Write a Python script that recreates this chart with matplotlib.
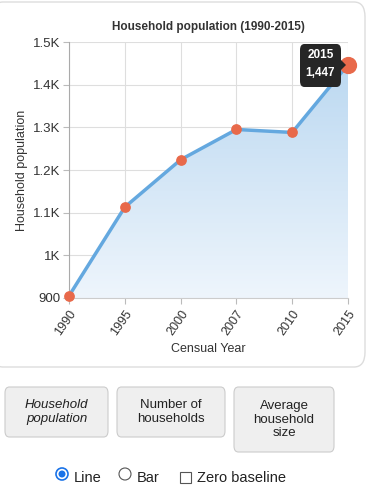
import numpy as np
import matplotlib.pyplot as plt
from matplotlib.patches import FancyBboxPatch, Polygon, Ellipse, Rectangle
from matplotlib.colors import LinearSegmentedColormap

# data
years = ['1990', '1995', '2000', '2007', '2010', '2015']
household_pop = [905, 1113, 1224, 1295, 1288, 1447]
yticks = [900, 1000, 1100, 1200, 1300, 1400, 1500]
ytick_labels = ['900', '1K', '1.1K', '1.2K', '1.3K', '1.4K', '1.5K']
buttons = ['Household\npopulation', 'Number of\nhouseholds', 'Average\nhousehold\nsize']

W, H = 367, 498
plt.rcParams['font.family'] = ['Liberation Sans', 'DejaVu Sans']
fig = plt.figure(figsize=(W / 100, H / 100), dpi=100)

def fx(px):
    return px / W

def fy(py):
    return 1 - py / H

def circle(cx, cy, r, **kw):
    # circle in pixel units, placed in figure coords
    e = Ellipse((fx(cx), fy(cy)), 2 * r / W, 2 * r / H,
                transform=fig.transFigure, **kw)
    fig.patches.append(e)

# card background
card = FancyBboxPatch((fx(-8), fy(367)), fx(373), fy(2) - fy(367),
                      boxstyle='round,pad=0,rounding_size=0.03',
                      transform=fig.transFigure, facecolor='white',
                      edgecolor='#dddddd', lw=1, zorder=-10)
fig.patches.append(card)

ax = fig.add_axes([fx(69), fy(298), fx(348) - fx(69), fy(42) - fy(298)])
ax.patch.set_alpha(0)
x = np.arange(len(years))
ax.set_xlim(0, len(years) - 1)
ax.set_ylim(900, 1500)

# gradient fill under line
cmap = LinearSegmentedColormap.from_list('g', ['#eef5fc', '#b7d6f0'])
grad = np.linspace(0, 1, 256).reshape(-1, 1)
im = ax.imshow(grad, aspect='auto', cmap=cmap, origin='lower',
               extent=[0, len(years) - 1, 900, 1500], zorder=1)
verts = [(0, 900)] + list(zip(x, household_pop)) + [(len(years) - 1, 900)]
poly = Polygon(verts, closed=True, facecolor='none', edgecolor='none')
ax.add_patch(poly)
im.set_clip_path(poly)

ax.plot(x, household_pop, color='#64a8df', lw=2.5, zorder=3)
ax.scatter(x[:-1], household_pop[:-1], s=45, color='#e8694a', zorder=4, clip_on=False)
ax.scatter(x[-1:], household_pop[-1:], s=130, color='#e8694a', zorder=5, clip_on=False)

ax.set_yticks(yticks)
ax.set_yticklabels(ytick_labels, fontsize=9.5, color='#333333')
ax.set_xticks(x)
ax.set_xticklabels(years, rotation=55, ha='right', rotation_mode='anchor',
                   fontsize=9, color='#333333')
ax.tick_params(axis='y', length=4, color='#bbbbbb', pad=2)
ax.tick_params(axis='x', length=4, color='#bbbbbb', pad=3)
ax.grid(True, color='#dedede', lw=0.8)
ax.set_axisbelow(True)
for s in ['top', 'right']:
    ax.spines[s].set_visible(False)
ax.spines['left'].set_color('#aaaaaa')
ax.spines['bottom'].set_color('#cccccc')
ax.set_xlabel('Censual Year', fontsize=9, color='#333333', labelpad=4)
ax.set_ylabel('Household population', fontsize=9, color='#333333', labelpad=4)
ax.set_title('Household population (1990-2015)', fontsize=8.5, fontweight='bold',
             color='#333333', pad=9)

# tooltip
tip = FancyBboxPatch((fx(300), fy(87)), fx(41), fy(44) - fy(87),
                     boxstyle='round,pad=0,rounding_size=0.012',
                     transform=fig.transFigure, facecolor='#262626',
                     edgecolor='none', zorder=10)
fig.patches.append(tip)
fig.patches.append(Polygon([(fx(341), fy(60)), (fx(346), fy(65)), (fx(341), fy(70))],
                           closed=True, transform=fig.transFigure,
                           facecolor='#262626', edgecolor='none', zorder=10))
fig.text(fx(320.5), fy(55), years[-1], color='white', fontsize=8.5,
         fontweight='bold', ha='center', va='center', zorder=11)
fig.text(fx(320.5), fy(73), f'{household_pop[-1]:,}', color='white', fontsize=8.5,
         fontweight='bold', ha='center', va='center', zorder=11)

# buttons
btn_boxes = [(5, 387, 103, 50), (117, 387, 108, 50), (234, 387, 100, 65)]
for i, (label, (bx, by, bw, bh)) in enumerate(zip(buttons, btn_boxes)):
    b = FancyBboxPatch((fx(bx), fy(by + bh)), fx(bw), fy(by) - fy(by + bh),
                       boxstyle='round,pad=0,rounding_size=0.012',
                       transform=fig.transFigure, facecolor='#efefef',
                       edgecolor='#cccccc', lw=0.8)
    fig.patches.append(b)
    fig.text(fx(bx + bw / 2), fy(by + bh / 2), label, ha='center', va='center',
             fontsize=9.5, color='#222222', linespacing=1.15,
             style='italic' if i == 0 else 'normal')

# radio / checkbox controls
circle(62, 474, 6, facecolor='white', edgecolor='#1a73e8', lw=1.2)
circle(62, 474, 3.5, facecolor='#1a73e8', edgecolor='none')
fig.text(fx(74), fy(478), 'Line', fontsize=10.5, va='center', color='#222222')
circle(125, 474, 6, facecolor='white', edgecolor='#555555', lw=0.8)
fig.text(fx(137), fy(478), 'Bar', fontsize=10.5, va='center', color='#222222')
fig.patches.append(Rectangle((fx(180), fy(483)), fx(11), fy(472) - fy(483),
                             transform=fig.transFigure, facecolor='white',
                             edgecolor='#555555', lw=0.8))
fig.text(fx(197), fy(478), 'Zero baseline', fontsize=10.5, va='center', color='#222222')

fig.savefig('out.png', dpi=100)
